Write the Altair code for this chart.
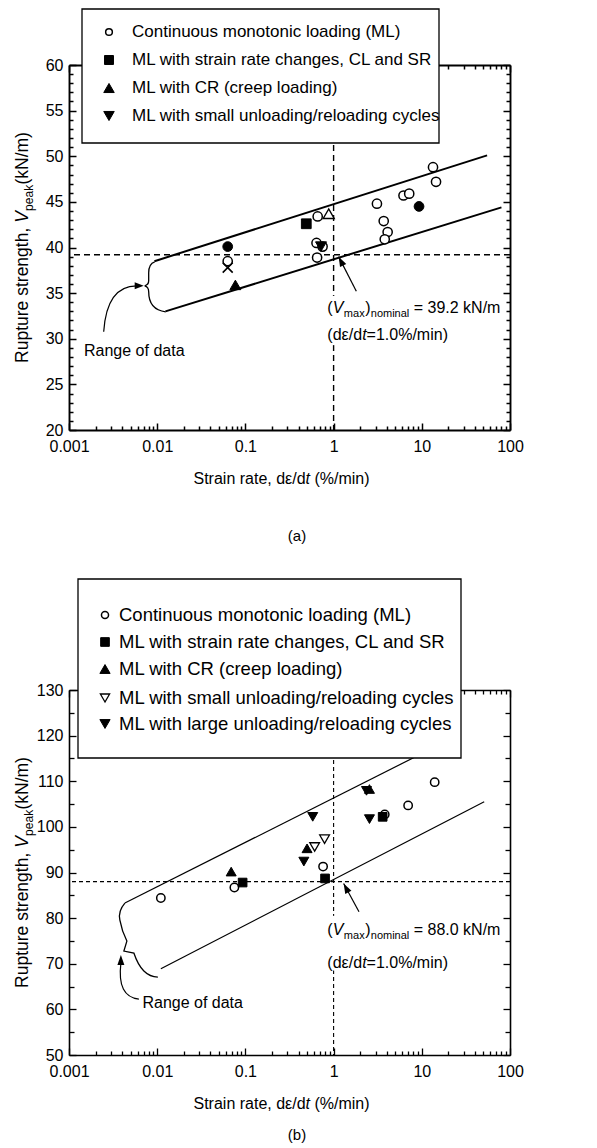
import altair as alt
import pandas as pd

FONT = "Liberation Sans"
W, H = 441, 365
GAP = 260

# ---------------- Panel (a) values ----------------
a_open_circle_x = [0.063, 0.66, 0.64, 0.75, 0.65, 3.1, 3.7, 4.1, 3.8, 6.2, 7.2, 13.4, 14.5]
a_open_circle_y = [38.5, 43.4, 40.5, 40.1, 38.9, 44.8, 42.9, 41.7, 40.9, 45.7, 45.9, 48.8, 47.2]
a_filled_circle_x = [0.063, 9.3]
a_filled_circle_y = [40.1, 44.5]
a_square_x = [0.49]
a_square_y = [42.6]
a_tri_up_x = [0.077]
a_tri_up_y = [35.9]
a_open_tri_up_x = [0.88]
a_open_tri_up_y = [43.7]
a_tri_down_x = [0.72]
a_tri_down_y = [40.1]
a_cross_x = [0.063]
a_cross_y = [37.8]
a_upper_x = [0.0093, 55]
a_upper_y = [38.5, 50.1]
a_lower_x = [0.0124, 80]
a_lower_y = [33.0, 44.4]
a_nominal = 39.2
a_y_domain = [20, 60]
a_y_major = [20, 25, 30, 35, 40, 45, 50, 55, 60]
a_y_minor = [v for v in range(21, 60) if v % 5 != 0]
a_legend_labels = [
    "Continuous monotonic loading (ML)",
    "ML with strain rate changes, CL and SR",
    "ML with CR (creep loading)",
    "ML with small unloading/reloading cycles",
]
a_legend_kinds = ["open_circle", "square", "tri_up", "tri_down"]

# ---------------- Panel (b) values ----------------
b_open_circle_x = [0.011, 0.075, 0.76, 3.8, 7.0, 14.0]
b_open_circle_y = [84.4, 86.7, 91.3, 102.7, 104.7, 109.8]
b_square_x = [0.093, 0.80, 3.6]
b_square_y = [87.8, 88.7, 102.2]
b_tri_up_x = [0.069, 0.50, 2.55]
b_tri_up_y = [90.2, 95.3, 108.3]
b_open_tri_down_x = [0.61, 0.79]
b_open_tri_down_y = [95.6, 97.3]
b_tri_down_x = [0.58, 0.46, 2.36, 2.55]
b_tri_down_y = [102.2, 92.4, 107.9, 101.7]
b_upper_x = [0.0043, 20]
b_upper_y = [83.3, 119.0]
b_lower_x = [0.011, 51]
b_lower_y = [68.9, 105.5]
b_nominal = 88.0
b_y_domain = [50, 130]
b_y_major = [50, 60, 70, 80, 90, 100, 110, 120, 130]
b_y_minor = [55, 65, 75, 85, 95, 105, 115, 125]
b_legend_labels = [
    "Continuous monotonic loading (ML)",
    "ML with strain rate changes, CL and SR",
    "ML with CR (creep loading)",
    "ML with small unloading/reloading cycles",
    "ML with large unloading/reloading cycles",
]
b_legend_kinds = ["open_circle", "square", "tri_up", "open_tri_down", "tri_down"]

x_decades = [0.001, 0.01, 0.1, 1, 10, 100]
x_minor = [round(m * 10.0 ** e, 6) for e in range(-3, 2) for m in range(2, 10)]

# Arial / Liberation Sans advance widths (1/1000 em)
AW = {' ': 278, '(': 333, ')': 333, '=': 584, '.': 278, '/': 278, '%': 889, ',': 278,
      'a': 556, 'b': 556, 'c': 500, 'd': 556, 'e': 556, 'f': 278, 'g': 556, 'h': 556,
      'i': 222, 'k': 500, 'l': 222, 'm': 833, 'n': 556, 'o': 556, 'p': 556, 'r': 333,
      's': 500, 't': 278, 'u': 556, 'w': 722, 'x': 500, 'y': 500,
      'R': 722, 'V': 667, 'N': 722, 'M': 833, 'L': 556, 'S': 667, 'C': 722, 'ε': 450}


def tw(s, fs):
    return sum(AW.get(c, 556) for c in s) / 1000.0 * fs


STYLE = {
    "open_circle": dict(shape="circle", filled=True, fill="white", stroke="black", strokeWidth=1.5),
    "filled_circle": dict(shape="circle", filled=True, fill="black", stroke="black", strokeWidth=1),
    "square": dict(shape="square", filled=True, fill="black", stroke="black", strokeWidth=1),
    "tri_up": dict(shape="triangle-up", filled=True, fill="black", stroke="black", strokeWidth=1),
    "open_tri_up": dict(shape="triangle-up", filled=True, fill="white", stroke="black", strokeWidth=1.4),
    "tri_down": dict(shape="triangle-down", filled=True, fill="black", stroke="black", strokeWidth=1),
    "open_tri_down": dict(shape="triangle-down", filled=True, fill="white", stroke="black", strokeWidth=1.3),
    "cross": dict(shape="M-1,-1L1,1M-1,1L1,-1", filled=False, stroke="black", strokeWidth=1.6),
}

ARROW_UP = "M0,0L-3.5,10L3.5,10Z"
ONE = pd.DataFrame({"k": [0]})


def tick_axis(orient, offset, values, size, width, domain=False, dw=1.8):
    return alt.Axis(orient=orient, offset=offset, values=values, labels=False, ticks=True,
                    tickSize=size, tickColor="black", tickWidth=width, domain=domain,
                    domainColor="black", domainWidth=dw, grid=False, title=None)


def panel(cfg):
    xs = alt.Scale(type="log", domain=[0.001, 100], nice=False)
    ys = alt.Scale(domain=cfg["ydom"], nice=False, zero=False)
    dw = cfg["domain_w"]
    tkw = cfg["tick_w"]
    lab_x = alt.Axis(orient="bottom", values=x_decades, labelExpr="format(datum.value, '~g')",
                     ticks=False, tickSize=0, domain=True, domainColor="black", domainWidth=dw,
                     labelFont=FONT, labelFontSize=16, labelColor="black", labelPadding=8,
                     labelFlush=False, labelOverlap=False, grid=False, title=None)
    lab_y = alt.Axis(orient="left", values=cfg["ymaj"], ticks=False, tickSize=0, domain=True,
                     domainColor="black", domainWidth=dw, labelFont=FONT, labelFontSize=16,
                     labelColor="black", labelPadding=6, labelOverlap=False, grid=False, title=None)
    queue = [
        (lab_x, lab_y),
        (tick_axis("top", -H, x_decades, 7, tkw), tick_axis("right", -W, cfg["ymaj"], 7, tkw)),
        (tick_axis("top", -H, x_minor, 4, tkw), tick_axis("right", -W, cfg["ymin"], cfg["ymin_size"], tkw)),
        (tick_axis("bottom", -H, x_decades, 7, tkw, True, dw), tick_axis("left", -W, cfg["ymaj"], 7, tkw, True, dw)),
        (tick_axis("bottom", -H, x_minor, 4, tkw), tick_axis("left", -W, cfg["ymin"], cfg["ymin_size"], tkw)),
    ]

    def nxt():
        return queue.pop(0) if queue else (None, None)

    def X(field, axis=None):
        return alt.X(field, type="quantitative", scale=xs, axis=axis)

    def Y(field, axis=None):
        return alt.Y(field, type="quantitative", scale=ys, axis=axis)

    layers = []
    # dashed reference lines
    layers.append(alt.Chart(pd.DataFrame({"v": [cfg["nominal"]]})).mark_rule(
        color="black", strokeDash=cfg["dash"], strokeWidth=cfg["dash_w"]).encode(y=Y("v")))
    layers.append(alt.Chart(pd.DataFrame({"v": [1.0]})).mark_rule(
        color="black", strokeDash=cfg["dash"], strokeWidth=cfg["dash_w"]).encode(x=X("v")))
    # range-of-data lines
    lines = pd.DataFrame({"x": cfg["upper_x"] + cfg["lower_x"], "y": cfg["upper_y"] + cfg["lower_y"],
                          "id": ["u", "u", "l", "l"]})
    ax, ay = nxt()
    layers.append(alt.Chart(lines).mark_line(color="black", strokeWidth=cfg["line_w"]).encode(
        x=X("x", ax), y=Y("y", ay), detail="id:N"))
    # white mask behind the nominal annotation
    m = cfg["mask"]
    layers.append(alt.Chart(pd.DataFrame({"x": [m[0]], "x2": [m[1]], "y": [m[2]], "y2": [m[3]]})).mark_rect(
        fill="white").encode(x=X("x"), x2="x2", y=Y("y"), y2="y2"))
    # data points
    for kind, px, py in cfg["points"]:
        st = dict(STYLE[kind])
        ax, ay = nxt()
        layers.append(alt.Chart(pd.DataFrame({"x": px, "y": py})).mark_point(
            size=cfg["sizes"][kind], opacity=1, **st).encode(x=X("x", ax), y=Y("y", ay)))
    # straight arrow to the nominal point
    ar = cfg["arrow"]
    layers.append(alt.Chart(pd.DataFrame({"x": [ar[0]], "y": [ar[1]], "x2": [ar[2]], "y2": [ar[3]]})).mark_rule(
        color="black", strokeWidth=1.2).encode(x=X("x"), y=Y("y"), x2="x2", y2="y2"))
    layers.append(alt.Chart(pd.DataFrame({"x": [ar[2]], "y": [ar[3]]})).mark_point(
        shape=ARROW_UP, size=4, angle=ar[4], filled=True, fill="black", opacity=1).encode(x=X("x"), y=Y("y")))
    # brace + curved arrow (pixel geometry anchored at a data point)
    bx, by = cfg["brace_anchor"]
    anc = pd.DataFrame({"x": [bx], "y": [by]})
    layers.append(alt.Chart(anc).mark_point(shape=cfg["brace_path"], size=4, filled=False, stroke="black",
                                            strokeWidth=1.3, opacity=1).encode(x=X("x"), y=Y("y")))
    layers.append(alt.Chart(anc).mark_point(shape=cfg["curve_path"], size=4, filled=False, stroke="black",
                                            strokeWidth=1.2, opacity=1).encode(x=X("x"), y=Y("y")))
    layers.append(alt.Chart(anc).mark_point(shape=cfg["curve_head"], size=4, filled=True, fill="black",
                                            opacity=1).encode(x=X("x"), y=Y("y")))
    # "Range of data"
    rx, ry = cfg["range_text"]
    layers.append(alt.Chart(pd.DataFrame({"x": [rx], "y": [ry]})).mark_text(
        text="Range of data", align="left", baseline="middle", font=FONT, fontSize=16, color="black").encode(
        x=X("x"), y=Y("y")))
    # nominal annotation (two lines, with italic / subscript parts)
    nx, ny1, ny2 = cfg["nom_text"]
    line1 = [("(", 16, "normal", 0, 0), ("V", 16, "italic", 0, 0), ("max", 11, "normal", 4, 0.5),
             (")", 16, "normal", 0, 0.5), ("nominal", 11, "normal", 4, 0.3),
             (cfg["nom_label"], 16, "normal", 0, tw(" ", 16))]
    line2 = [("(dε/d", 16, "normal", 0, 0), ("t", 16, "italic", 0, 0), ("=1.0%/min)", 16, "normal", 0, 0)]
    for yy, pieces in ((ny1, line1), (ny2, line2)):
        off = 0.0
        d = pd.DataFrame({"x": [nx], "y": [yy]})
        for txt, fs, style, shift, lead in pieces:
            off += lead
            layers.append(alt.Chart(d).mark_text(
                text=txt, align="left", baseline="alphabetic", font=FONT, fontSize=fs, fontStyle=style,
                dx=off, dy=5.5 + shift, color="black").encode(x=X("x"), y=Y("y")))
            off += tw(txt, fs)
    # y-axis title (rotated, with subscript)
    yfs = 17.5
    yt = [("Rupture strength,", yfs, "normal", 0, 0), ("V", yfs, "italic", 0, tw(" ", yfs)),
          ("peak", 12, "normal", 4.5, 0.3), ("(kN/m)", yfs, "normal", 0, 0.3)]
    total = sum(tw(t, f) + l for t, f, s, sh, l in yt)
    ystart = H / 2 + total / 2
    off = 0.0
    for txt, fs, style, shift, lead in yt:
        off += lead
        layers.append(alt.Chart(ONE).mark_text(
            text=txt, angle=270, align="left", baseline="alphabetic", font=FONT, fontSize=fs,
            fontStyle=style, color="black").encode(x=alt.value(-41 + shift), y=alt.value(ystart - off)))
        off += tw(txt, fs)
    # x-axis title
    xc = W / 2 - 8
    p1 = "Strain rate, dε/d"
    full = tw(p1, 16) + tw("t", 16) + tw(" (%/min)", 16)
    xa = xc - full / 2 + tw(p1, 16)
    for txt, style, xx, al in ((p1, "normal", xa, "right"), ("t", "italic", xa, "left"),
                               ("(%/min)", "normal", xa + tw("t ", 16), "left")):
        layers.append(alt.Chart(ONE).mark_text(
            text=txt, align=al, baseline="middle", font=FONT, fontSize=16, fontStyle=style,
            color="black").encode(x=alt.value(xx), y=alt.value(H + 49)))
    # caption
    layers.append(alt.Chart(ONE).mark_text(
        text=cfg["caption"], align="center", baseline="middle", font=FONT, fontSize=15,
        color="black").encode(x=alt.value(228), y=alt.value(H + cfg["caption_dy"])))
    # legend box
    lb = cfg["legend_box"]
    layers.append(alt.Chart(ONE).mark_rect(fill="white", stroke="black", strokeWidth=1.3).encode(
        x=alt.value(lb[0]), x2=alt.value(lb[1]), y=alt.value(lb[2]), y2=alt.value(lb[3])))
    for lab, kind, ry_ in zip(cfg["legend_labels"], cfg["legend_kinds"], cfg["legend_rows"]):
        st = dict(STYLE[kind])
        layers.append(alt.Chart(ONE).mark_point(size=cfg["legend_sizes"][kind], opacity=1, **st).encode(
            x=alt.value(cfg["legend_mx"]), y=alt.value(ry_)))
        layers.append(alt.Chart(ONE).mark_text(
            text=lab, align="left", baseline="middle", font=FONT, fontSize=cfg["legend_fs"],
            color="black").encode(x=alt.value(cfg["legend_tx"]), y=alt.value(ry_)))

    return alt.layer(*layers).resolve_axis(x="independent", y="independent").properties(width=W, height=H)


cfg_a = dict(
    ydom=a_y_domain, ymaj=a_y_major, ymin=a_y_minor, ymin_size=4, nominal=a_nominal,
    domain_w=1.9, tick_w=1.5, dash=[6, 4], dash_w=1.4, line_w=2.0,
    upper_x=a_upper_x, upper_y=a_upper_y, lower_x=a_lower_x, lower_y=a_lower_y,
    mask=[0.93, 1.07, 29.3, 34.7],
    points=[("open_circle", a_open_circle_x, a_open_circle_y),
            ("square", a_square_x, a_square_y),
            ("filled_circle", a_filled_circle_x, a_filled_circle_y),
            ("tri_up", a_tri_up_x, a_tri_up_y),
            ("open_tri_up", a_open_tri_up_x, a_open_tri_up_y),
            ("tri_down", a_tri_down_x, a_tri_down_y),
            ("cross", a_cross_x, a_cross_y)],
    sizes={"open_circle": 85, "filled_circle": 95, "square": 95, "tri_up": 120, "open_tri_up": 120,
           "tri_down": 120, "open_tri_down": 120, "cross": 100},
    arrow=[1.81, 35.2, 1.14, 39.0, 333],
    brace_anchor=(0.0076, 35.8),
    brace_path="M8,-24Q2,-22 2,-13L2,-5Q2,-1 -2,0Q2,1 2,6Q2,24 19,26",
    curve_path="M-43,46Q-40,0 -10,0",
    curve_head="M-3,0L-12,-3.5L-12,3.5Z",
    range_text=(0.00148, 28.7),
    nom_text=(0.85, 33.4, 30.5), nom_label="= 39.2 kN/m",
    caption="(a)", caption_dy=106,
    legend_box=[13, 370, -56, 78], legend_labels=a_legend_labels, legend_kinds=a_legend_kinds,
    legend_rows=[-33, -5, 23, 51], legend_mx=40, legend_tx=63, legend_fs=17,
    legend_sizes={"open_circle": 45, "square": 80, "tri_up": 110, "tri_down": 110, "open_tri_down": 90},
)

cfg_b = dict(
    ydom=b_y_domain, ymaj=b_y_major, ymin=b_y_minor, ymin_size=5, nominal=b_nominal,
    domain_w=1.6, tick_w=1.3, dash=[4, 3], dash_w=1.1, line_w=1.2,
    upper_x=b_upper_x, upper_y=b_upper_y, lower_x=b_lower_x, lower_y=b_lower_y,
    mask=[0.93, 1.07, 68.5, 80.5],
    points=[("open_circle", b_open_circle_x, b_open_circle_y),
            ("square", b_square_x, b_square_y),
            ("tri_up", b_tri_up_x, b_tri_up_y),
            ("open_tri_down", b_open_tri_down_x, b_open_tri_down_y),
            ("tri_down", b_tri_down_x, b_tri_down_y)],
    sizes={"open_circle": 70, "filled_circle": 80, "square": 75, "tri_up": 100, "open_tri_up": 100,
           "tri_down": 100, "open_tri_down": 95, "cross": 80},
    arrow=[1.94, 81.4, 1.3, 87.6, 332],
    brace_anchor=(0.0043, 83.3),
    brace_path="M0,0Q-7,8 -5,17Q-3,28 2,38L-1,48L9,50Q13,62 19,68Q25,74 33,74",
    curve_path="M14,96Q-8,94 -4,60",
    curve_head="M-4,52L-7.5,62L-0.5,62Z",
    range_text=(0.0068, 61.4),
    nom_text=(0.85, 77.6, 70.2), nom_label="= 88.0 kN/m",
    caption="(b)", caption_dy=80,
    legend_box=[9, 392, -111, 68], legend_labels=b_legend_labels, legend_kinds=b_legend_kinds,
    legend_rows=[-75, -48, -21, 8, 34], legend_mx=36, legend_tx=50, legend_fs=18.5,
    legend_sizes={"open_circle": 50, "square": 75, "tri_up": 105, "tri_down": 105, "open_tri_down": 85},
)

chart = alt.vconcat(panel(cfg_a), panel(cfg_b), spacing=GAP, bounds="flush").properties(
    padding={"left": 14, "top": 8, "right": 5, "bottom": 5}
).configure_view(strokeWidth=0)

chart.save("out.html", embed_options={"renderer": "svg", "actions": False})
